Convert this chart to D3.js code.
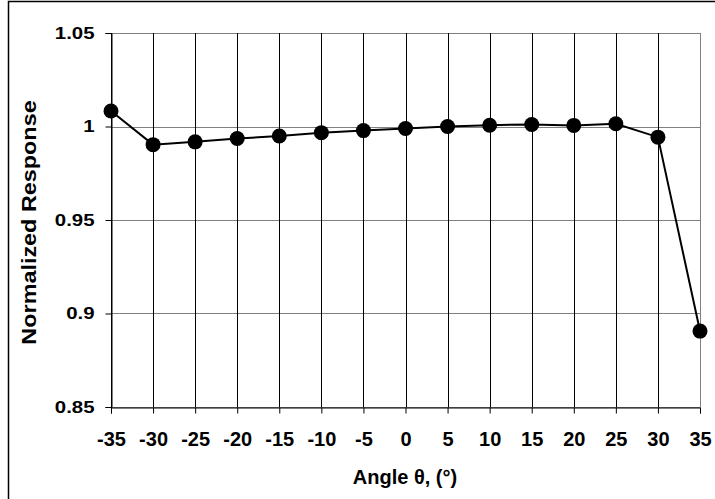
<!DOCTYPE html>
<html>
<head>
<meta charset="utf-8">
<script src="https://cdn.jsdelivr.net/npm/d3@7"></script>
<style>
  body { margin: 0; background: #fff; }
  text { font-family: "Liberation Sans", Arial, sans-serif; font-weight: bold; }
</style>
</head>
<body>
<div id="chart"></div>
<script>
const width = 715;
const height = 499;
const margin = {left: 111, right: 15, top: 33, bottom: 92};

// data
const angles = [-35, -30, -25, -20, -15, -10, -5, 0, 5, 10, 15, 20, 25, 30, 35];
const response = [1.0083, 0.9903, 0.9918, 0.9936, 0.9949, 0.9967, 0.9978, 0.9989, 1.0000, 1.0007, 1.0011, 1.0006, 1.0015, 0.9943, 0.8906];
const yTicks = [0.85, 0.9, 0.95, 1, 1.05];

const svg = d3.select("#chart")
    .append("svg")
    .attr("width", width)
    .attr("height", height);

// outer chart frame
svg.append("rect")
    .attr("x", 8.5).attr("y", 1.5)
    .attr("width", 720).attr("height", 520)
    .attr("fill", "none")
    .attr("stroke", "#000")
    .attr("stroke-width", 1.5);

const xScale = d3.scaleLinear()
    .domain([-35, 35])
    .range([margin.left, width - margin.right]);
const yScale = d3.scaleLinear()
    .domain([0.85, 1.05])
    .range([height - margin.bottom, margin.top]);

// horizontal grid
svg.append("g")
    .selectAll("line")
    .data(yTicks)
    .enter()
    .append("line")
        .attr("x1", margin.left)
        .attr("x2", width - margin.right)
        .attr("y1", d => Math.round(yScale(d)) + 0.5)
        .attr("y2", d => Math.round(yScale(d)) + 0.5)
        .attr("stroke", "#808080");

// vertical grid
svg.append("g")
    .selectAll("line")
    .data(angles)
    .enter()
    .append("line")
        .attr("x1", d => Math.round(xScale(d)) + 0.5)
        .attr("x2", d => Math.round(xScale(d)) + 0.5)
        .attr("y1", margin.top)
        .attr("y2", height - margin.bottom)
        .attr("stroke", (d, i) => i === angles.length - 1 ? "#808080" : "#000");

const xAxis = d3.axisBottom(xScale)
    .tickValues(angles)
    .tickSize(6)
    .tickPadding(18)
    .tickFormat(d => String(d));
const yAxis = d3.axisLeft(yScale)
    .tickValues(yTicks)
    .tickSize(6)
    .tickPadding(11)
    .tickFormat(d => String(d));

svg.append("g")
    .attr("class", "xaxis")
    .attr("transform", `translate(0,${Math.round(height - margin.bottom) + 0.5})`)
    .call(xAxis);
svg.append("g")
    .attr("class", "yaxis")
    .attr("transform", `translate(${margin.left + 0.5},0)`)
    .call(yAxis);

svg.selectAll(".xaxis path, .yaxis path").attr("stroke", "#000");
svg.selectAll(".tick line").attr("stroke", "#000");
svg.selectAll(".tick text")
    .attr("fill", "#000")
    .attr("font-family", "Liberation Sans, Arial, sans-serif")
    .attr("font-weight", "bold");
svg.selectAll(".xaxis .tick text")
    .attr("font-size", "20px");
// y labels are drawn wide in the original
svg.selectAll(".yaxis .tick text")
    .attr("font-size", "17px")
    .attr("x", -17 / 1.2)
    .attr("transform", "scale(1.2,1)");

// series line
const line = d3.line()
    .x((d, i) => xScale(angles[i]))
    .y(d => yScale(d));
svg.append("path")
    .datum(response)
    .attr("d", line)
    .attr("fill", "none")
    .attr("stroke", "#000")
    .attr("stroke-width", 2);

svg.append("g")
    .selectAll("circle")
    .data(response)
    .enter()
    .append("circle")
        .attr("cx", (d, i) => xScale(angles[i]))
        .attr("cy", d => yScale(d))
        .attr("r", 7.5)
        .attr("fill", "#000");

// axis titles
svg.append("text")
    .attr("x", 405)
    .attr("y", 484)
    .attr("text-anchor", "middle")
    .attr("font-size", "20px")
    .text("Angle θ, (°)");

svg.append("text")
    .attr("transform", "translate(36,222.5) rotate(-90) scale(1.17,1)")
    .attr("text-anchor", "middle")
    .attr("font-size", "20px")
    .text("Normalized Response");
</script>
</body>
</html>
